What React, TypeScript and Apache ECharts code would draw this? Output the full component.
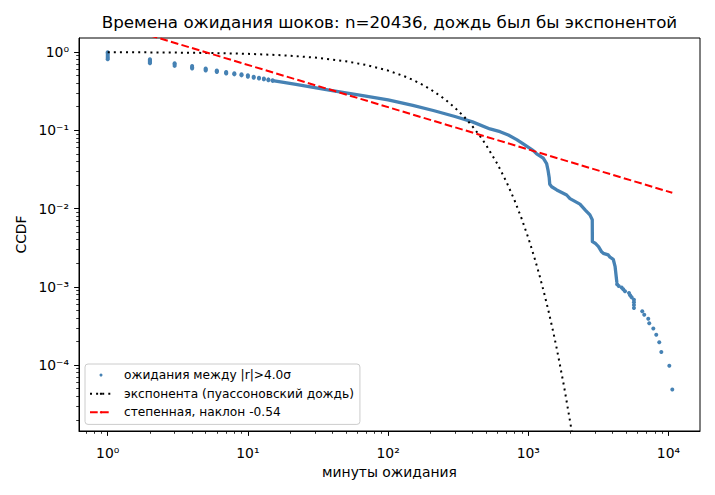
import React, { useEffect, useRef } from "react";
import * as echarts from "echarts";

const TITLE = "Времена ожидания шоков: n=20436, дождь был бы экспонентой";
const X_NAME = "минуты ожидания";
const Y_NAME = "CCDF";
const SCATTER_NAME = "ожидания между |r|>4.0σ";
const EXP_NAME = "экспонента (пуассоновский дождь)";
const POW_NAME = "степенная, наклон -0.54";

const xTickValues = [1, 10, 100, 1000, 10000];
const xTickLabels = ["10⁰", "10¹", "10²", "10³", "10⁴"];
const xMinorTicks = [
  0.7, 0.8, 0.9, 2, 3, 4, 5, 6, 7, 8, 9, 20, 30, 40, 50, 60, 70, 80, 90,
  200, 300, 400, 500, 600, 700, 800, 900, 2000, 3000, 4000, 5000, 6000, 7000,
  8000, 9000,
];
const yTickValues = [0.0001, 0.001, 0.01, 0.1, 1];
const yTickLabels = ["10⁻⁴", "10⁻³", "10⁻²", "10⁻¹", "10⁰"];
const yMinorTicks = [
  0.00002, 0.00003, 0.00004, 0.00005, 0.00006, 0.00007, 0.00008, 0.00009,
  0.0002, 0.0003, 0.0004, 0.0005, 0.0006, 0.0007, 0.0008, 0.0009,
  0.002, 0.003, 0.004, 0.005, 0.006, 0.007, 0.008, 0.009,
  0.02, 0.03, 0.04, 0.05, 0.06, 0.07, 0.08, 0.09,
  0.2, 0.3, 0.4, 0.5, 0.6, 0.7, 0.8, 0.9,
];

// discrete waiting-time points (minutes, CCDF)
const scatterPoints: [number, number][] = [
  [1, 0.99], [1, 0.95], [1, 0.91], [1, 0.87], [1, 0.84], [1, 0.81],
  [2, 0.81], [2, 0.785], [2, 0.76], [2, 0.74], [2, 0.72],
  [3, 0.72], [3, 0.695], [3, 0.665],
  [4, 0.663], [4, 0.64], [4, 0.617],
  [5, 0.617], [5, 0.6], [5, 0.582],
  [6, 0.582], [6, 0.567], [6, 0.555],
  [7, 0.555], [7, 0.544], [7, 0.533],
  [8, 0.534], [8, 0.518],
  [9, 0.519], [9, 0.503],
  [10, 0.504], [10, 0.484],
  [11, 0.484], [11, 0.47],
  [12, 0.47], [12, 0.458],
  [13, 0.458], [13, 0.447],
  [14, 0.447], [14, 0.437],
  [15, 0.437], [15, 0.428],
  [4300, 0.001077], [4420, 0.001028], [4634, 0.000979], [4760, 0.00093],
  [4897, 0.000881], [5229, 0.000832], [5330, 0.000783], [5460, 0.000734],
  [5671, 0.000685], [5671, 0.000636], [5671, 0.000587], [5671, 0.000538],
  [6505, 0.000489], [6718, 0.00044], [7173, 0.000391], [7296, 0.000343],
  [7798, 0.000294], [8187, 0.000245], [8600, 0.000196], [8890, 0.000147],
  [10140, 0.0000979], [10650, 0.0000489],
];

// dense part of the same empirical CCDF (points overlap into a band)
const densePoints: [number, number][] = [
  [15, 0.432], [18, 0.41], [22, 0.387], [30, 0.352], [38, 0.327], [50, 0.3],
  [66, 0.278], [100, 0.245], [150, 0.208], [210, 0.179], [300, 0.15],
  [400, 0.128], [533, 0.104], [629, 0.096], [720, 0.087], [827, 0.076],
  [921, 0.067], [1086, 0.055], [1148, 0.05], [1279, 0.044], [1352, 0.0376],
  [1383, 0.031], [1410, 0.025], [1423, 0.0205], [1469, 0.019], [1596, 0.0173],
  [1879, 0.0149], [1984, 0.0134], [2336, 0.0114], [2562, 0.0095],
  [2753, 0.0083], [2861, 0.0072], [2866, 0.00378], [3000, 0.00361],
  [3170, 0.00327], [3336, 0.0028], [3430, 0.00268], [3720, 0.00256],
  [3830, 0.00239], [4038, 0.00225], [4160, 0.00183], [4280, 0.00116],
];

// exponential reference (Poisson rain)
const expPoints: [number, number][] = [
  [1, 0.99455], [2, 0.98913], [3, 0.98374], [5, 0.97305], [7, 0.96248],
  [10, 0.94684], [15, 0.92131], [20, 0.89648], [30, 0.84884], [50, 0.76094],
  [70, 0.68209], [100, 0.57901], [130, 0.49145], [150, 0.44057],
  [180, 0.37397], [200, 0.33525], [250, 0.25505], [300, 0.19406],
  [350, 0.14768], [400, 0.11237], [450, 0.08551], [500, 0.06505],
  [600, 0.03767], [700, 0.02181], [800, 0.01263], [900, 0.00731],
  [1000, 0.004234], [1100, 0.002452], [1200, 0.00142], [1300, 0.000822],
  [1400, 0.000476], [1500, 0.000276], [1600, 0.00016], [1800, 0.0000535],
  [2000, 0.0000179], [2200, 0.000006],
];

// power-law fit, slope -0.54
const powPoints: [number, number][] = [
  [1, 2.37],
  [10650, 0.0159],
];

const FONT = "DejaVu Sans";
const BLUE = "#4682b4";

const X_MIN = 0.624;
const X_MAX = 16790;
const Y_MIN = 0.0000144;
const Y_MAX = 1.51;

const lookup = (values: number[], labels: string[]) => (v: number) => {
  const i = values.findIndex(
    (t) => Math.abs(Math.log10(t) - Math.log10(v)) < 1e-6
  );
  return i >= 0 ? labels[i] : "";
};

export default function App() {
  const ref = useRef<HTMLDivElement>(null);

  useEffect(() => {
    document.body.style.margin = "0";
    if (!ref.current) return;
    const chart = echarts.init(ref.current, null, { renderer: "svg" });

    const minorX = {
      type: "log",
      gridIndex: 0,
      position: "bottom",
      min: X_MIN,
      max: X_MAX,
      axisLine: { show: false },
      axisTick: {
        show: true,
        customValues: xMinorTicks,
        length: 2.8,
        lineStyle: { color: "#000", width: 0.8 },
      },
      axisLabel: { show: false },
      splitLine: { show: false },
    };
    const minorY = {
      type: "log",
      gridIndex: 0,
      position: "left",
      min: Y_MIN,
      max: Y_MAX,
      axisLine: { show: false },
      axisTick: {
        show: true,
        customValues: yMinorTicks,
        length: 2.8,
        lineStyle: { color: "#000", width: 0.8 },
      },
      axisLabel: { show: false },
      splitLine: { show: false },
    };

    chart.setOption({
      animation: false,
      backgroundColor: "#fff",
      title: {
        text: TITLE,
        left: 389.5,
        top: 13,
        padding: 0,
        textAlign: "center",
        textStyle: {
          fontFamily: FONT,
          fontSize: 16.7,
          fontWeight: "normal",
          color: "#000",
        },
      },
      grid: {
        left: 79,
        top: 38,
        width: 621,
        height: 393,
        show: true,
        borderColor: "#000",
        borderWidth: 1,
        backgroundColor: "#fff",
      },
      legend: {
        data: [SCATTER_NAME, EXP_NAME, POW_NAME],
        orient: "vertical",
        left: 85,
        top: 364,
        itemWidth: 22,
        itemHeight: 3,
        itemGap: 4.4,
        padding: [4, 6, 5, 4],
        borderColor: "#cccccc",
        borderWidth: 1,
        borderRadius: 3,
        backgroundColor: "rgba(255,255,255,0.8)",
        selectedMode: false,
        textStyle: {
          fontFamily: FONT,
          fontSize: 12.2,
          color: "#000",
          lineHeight: 14.2,
          padding: [0, 0, 0, 7],
        },
      },
      xAxis: [
        {
          type: "log",
          gridIndex: 0,
          position: "bottom",
          min: X_MIN,
          max: X_MAX,
          name: X_NAME,
          nameLocation: "middle",
          nameGap: 34,
          nameTextStyle: { fontFamily: FONT, fontSize: 13.9, color: "#000" },
          axisLine: { show: true, lineStyle: { color: "#000", width: 1 } },
          axisTick: {
            show: true,
            customValues: xTickValues,
            length: 4.9,
            lineStyle: { color: "#000", width: 1 },
          },
          axisLabel: {
            customValues: xTickValues,
            formatter: lookup(xTickValues, xTickLabels),
            fontFamily: FONT,
            fontSize: 13.9,
            color: "#000",
            margin: 15,
          },
          splitLine: { show: false },
        },
        minorX,
      ],
      yAxis: [
        {
          type: "log",
          gridIndex: 0,
          position: "left",
          min: Y_MIN,
          max: Y_MAX,
          name: Y_NAME,
          nameLocation: "middle",
          nameGap: 50,
          nameRotate: 90,
          nameTextStyle: { fontFamily: FONT, fontSize: 13.9, color: "#000" },
          axisLine: { show: true, lineStyle: { color: "#000", width: 1 } },
          axisTick: {
            show: true,
            customValues: yTickValues,
            length: 4.9,
            lineStyle: { color: "#000", width: 1 },
          },
          axisLabel: {
            customValues: yTickValues,
            formatter: lookup(yTickValues, yTickLabels),
            fontFamily: FONT,
            fontSize: 13.9,
            color: "#000",
            margin: 10,
          },
          splitLine: { show: false },
        },
        minorY,
      ],
      series: [
        {
          name: SCATTER_NAME,
          type: "scatter",
          xAxisIndex: 0,
          yAxisIndex: 0,
          data: scatterPoints,
          symbol: "circle",
          symbolSize: 4,
          itemStyle: { color: BLUE, opacity: 1 },
          z: 3,
        },
        {
          name: "dense",
          type: "line",
          xAxisIndex: 0,
          yAxisIndex: 0,
          data: densePoints,
          symbol: "none",
          lineStyle: { color: BLUE, width: 3.3, cap: "round", join: "round" },
          itemStyle: { color: BLUE },
          z: 3,
        },
        {
          name: EXP_NAME,
          type: "line",
          xAxisIndex: 0,
          yAxisIndex: 0,
          data: expPoints,
          symbol: "none",
          lineStyle: { color: "#000", width: 2, type: [2, 4.1] },
          itemStyle: { color: "#000" },
          z: 4,
        },
        {
          name: POW_NAME,
          type: "line",
          xAxisIndex: 0,
          yAxisIndex: 0,
          data: powPoints,
          symbol: "none",
          lineStyle: { color: "#ff0000", width: 2, type: [7.7, 3.3] },
          itemStyle: { color: "#ff0000" },
          z: 5,
        },
      ],
    });

    return () => chart.dispose();
  }, []);

  return <div ref={ref} style={{ width: 715, height: 495 }} />;
}
